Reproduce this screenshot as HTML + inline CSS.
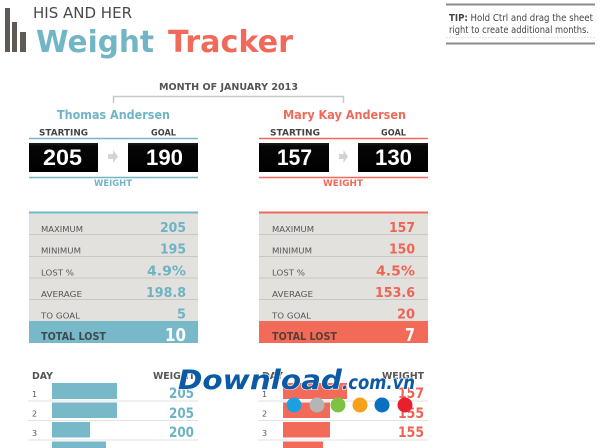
<!DOCTYPE html>
<html>
<head>
<meta charset="utf-8">
<style>
html,body{margin:0;padding:0;background:#fff;}
svg{display:block;}
text{font-family:"DejaVu Sans","Liberation Sans",sans-serif;}
.b{font-weight:bold;}
.n{font-family:"Liberation Sans",sans-serif;font-weight:bold;}
</style>
</head>
<body>
<svg width="600" height="448" viewBox="0 0 600 448" xmlns="http://www.w3.org/2000/svg">
<defs>
<linearGradient id="bx" x1="0" y1="0" x2="0" y2="1">
<stop offset="0" stop-color="#1c1c1c"/>
<stop offset="0.12" stop-color="#060606"/>
<stop offset="1" stop-color="#000"/>
</linearGradient>
</defs>

<!-- Logo bars -->
<rect x="5" y="8" width="5" height="44" fill="#5f5a55"/>
<rect x="12" y="22" width="5" height="30" fill="#5f5a55"/>
<rect x="20" y="32" width="6" height="20" fill="#5f5a55"/>
<text x="33" y="18" font-size="15" fill="#4a4a4a" textLength="99" lengthAdjust="spacingAndGlyphs">HIS AND HER</text>
<text x="36" y="52" font-size="30" class="b" fill="#72b6c6" textLength="118" lengthAdjust="spacingAndGlyphs">Weight</text>
<text x="168" y="52" font-size="30" class="b" fill="#f0695a" textLength="125" lengthAdjust="spacingAndGlyphs">Tracker</text>

<!-- Tip -->
<line x1="446" y1="4.5" x2="595" y2="4.5" stroke="#8a8a8a" stroke-width="2"/>
<text x="449" y="21" font-size="9.5" fill="#444" textLength="144" lengthAdjust="spacingAndGlyphs"><tspan class="b">TIP:</tspan> Hold Ctrl and drag the sheet</text>
<text x="449" y="33" font-size="9.5" fill="#444" textLength="140" lengthAdjust="spacingAndGlyphs">right to create additional months.</text>
<line x1="446" y1="37.5" x2="595" y2="37.5" stroke="#e6e6e6" stroke-width="1" stroke-dasharray="2 1"/>
<line x1="446" y1="43.5" x2="595" y2="43.5" stroke="#8a8a8a" stroke-width="2"/>

<!-- Month -->
<text x="159" y="90" font-size="9.5" class="b" fill="#555" textLength="139" lengthAdjust="spacingAndGlyphs">MONTH OF JANUARY 2013</text>
<path d="M113.5 103 V96.5 H343.5 V103" fill="none" stroke="#c8c8c8" stroke-width="1.5"/>

<!-- LEFT PERSON -->
<text x="57" y="119" font-size="12.5" class="b" fill="#6fb5c5" textLength="113" lengthAdjust="spacingAndGlyphs">Thomas Andersen</text>
<text x="39" y="135.5" font-size="8.5" class="b" fill="#444" textLength="49" lengthAdjust="spacingAndGlyphs">STARTING</text>
<text x="151" y="135.5" font-size="8.5" class="b" fill="#444" textLength="25" lengthAdjust="spacingAndGlyphs">GOAL</text>
<line x1="29" y1="138.5" x2="198" y2="138.5" stroke="#72b6c6" stroke-width="1.6"/>
<rect x="29" y="143" width="69" height="29" fill="url(#bx)"/>
<rect x="128" y="143" width="70" height="29" fill="url(#bx)"/>
<text x="43" y="165" font-size="22" class="n" fill="#fff" textLength="39" lengthAdjust="spacingAndGlyphs">205</text>
<text x="146" y="165" font-size="22" class="n" fill="#fff" textLength="37" lengthAdjust="spacingAndGlyphs">190</text>
<polygon points="108,154 113,154 113,150 118,156.5 113,163 113,159 108,159" fill="#d4d4d4"/>
<line x1="29" y1="177.5" x2="198" y2="177.5" stroke="#72b6c6" stroke-width="1.6"/>
<text x="94" y="186" font-size="9" class="b" fill="#72b6c6" textLength="38" lengthAdjust="spacingAndGlyphs">WEIGHT</text>

<!-- RIGHT PERSON -->
<text x="283" y="119" font-size="12.5" class="b" fill="#ef6a5a" textLength="123" lengthAdjust="spacingAndGlyphs">Mary Kay Andersen</text>
<text x="270" y="135.5" font-size="8.5" class="b" fill="#444" textLength="50" lengthAdjust="spacingAndGlyphs">STARTING</text>
<text x="381" y="135.5" font-size="8.5" class="b" fill="#444" textLength="25" lengthAdjust="spacingAndGlyphs">GOAL</text>
<line x1="259" y1="138.5" x2="428" y2="138.5" stroke="#f0695a" stroke-width="1.6"/>
<rect x="259" y="143" width="70" height="29" fill="url(#bx)"/>
<rect x="358" y="143" width="70" height="29" fill="url(#bx)"/>
<text x="277" y="165" font-size="22" class="n" fill="#fff" textLength="35" lengthAdjust="spacingAndGlyphs">157</text>
<text x="375" y="165" font-size="22" class="n" fill="#fff" textLength="37" lengthAdjust="spacingAndGlyphs">130</text>
<polygon points="339,154 343.5,154 343.5,150 348,156.5 343.5,163 343.5,159 339,159" fill="#d4d4d4"/>
<line x1="259" y1="177.5" x2="428" y2="177.5" stroke="#f0695a" stroke-width="1.6"/>
<text x="323" y="186" font-size="9" class="b" fill="#f0695a" textLength="40" lengthAdjust="spacingAndGlyphs">WEIGHT</text>

<!-- LEFT STATS -->
<rect x="29" y="212" width="169" height="110" fill="#e3e1de"/>
<line x1="29" y1="212.5" x2="198" y2="212.5" stroke="#72b6c6" stroke-width="2"/>
<g stroke="#c9c7c4" stroke-width="1">
<line x1="29" y1="234.5" x2="198" y2="234.5"/>
<line x1="29" y1="256.5" x2="198" y2="256.5"/>
<line x1="29" y1="278" x2="198" y2="278"/>
<line x1="29" y1="299.5" x2="198" y2="299.5"/>
</g>
<rect x="29" y="321" width="169" height="22" fill="#77b9c8"/>
<g font-size="8" fill="#555">
<text x="41" y="232" textLength="42" lengthAdjust="spacingAndGlyphs">MAXIMUM</text>
<text x="41" y="253.5" textLength="40" lengthAdjust="spacingAndGlyphs">MINIMUM</text>
<text x="41" y="275.5" textLength="33" lengthAdjust="spacingAndGlyphs">LOST %</text>
<text x="41" y="297" textLength="41" lengthAdjust="spacingAndGlyphs">AVERAGE</text>
<text x="41" y="318.5" textLength="39" lengthAdjust="spacingAndGlyphs">TO GOAL</text>
</g>
<text x="41" y="340" font-size="10.5" class="b" fill="#3e4a50" textLength="65" lengthAdjust="spacingAndGlyphs">TOTAL LOST</text>
<g font-size="13.5" class="b" fill="#6db3c4" text-anchor="end">
<text x="186" y="232" textLength="26" lengthAdjust="spacingAndGlyphs">205</text>
<text x="186" y="253.5" textLength="26" lengthAdjust="spacingAndGlyphs">195</text>
<text x="186" y="275.5" textLength="39" lengthAdjust="spacingAndGlyphs">4.9%</text>
<text x="186" y="297" textLength="40" lengthAdjust="spacingAndGlyphs">198.8</text>
<text x="186" y="318.5" textLength="9" lengthAdjust="spacingAndGlyphs">5</text>
</g>
<text x="186" y="341" font-size="18" class="b" fill="#fff" text-anchor="end" textLength="21" lengthAdjust="spacingAndGlyphs">10</text>

<!-- RIGHT STATS -->
<rect x="259" y="212" width="169" height="110" fill="#e3e1de"/>
<line x1="259" y1="212.5" x2="428" y2="212.5" stroke="#f0695a" stroke-width="2"/>
<g stroke="#c9c7c4" stroke-width="1">
<line x1="259" y1="234.5" x2="428" y2="234.5"/>
<line x1="259" y1="256.5" x2="428" y2="256.5"/>
<line x1="259" y1="278" x2="428" y2="278"/>
<line x1="259" y1="299.5" x2="428" y2="299.5"/>
</g>
<rect x="259" y="321" width="169" height="22" fill="#f26b58"/>
<g font-size="8" fill="#555">
<text x="272" y="232" textLength="42" lengthAdjust="spacingAndGlyphs">MAXIMUM</text>
<text x="272" y="253.5" textLength="40" lengthAdjust="spacingAndGlyphs">MINIMUM</text>
<text x="272" y="275.5" textLength="33" lengthAdjust="spacingAndGlyphs">LOST %</text>
<text x="272" y="297" textLength="41" lengthAdjust="spacingAndGlyphs">AVERAGE</text>
<text x="272" y="318.5" textLength="39" lengthAdjust="spacingAndGlyphs">TO GOAL</text>
</g>
<text x="272" y="340" font-size="10.5" class="b" fill="#5a3c36" textLength="65" lengthAdjust="spacingAndGlyphs">TOTAL LOST</text>
<g font-size="13.5" class="b" fill="#ee6454" text-anchor="end">
<text x="415" y="232" textLength="26" lengthAdjust="spacingAndGlyphs">157</text>
<text x="415" y="253.5" textLength="26" lengthAdjust="spacingAndGlyphs">150</text>
<text x="415" y="275.5" textLength="39" lengthAdjust="spacingAndGlyphs">4.5%</text>
<text x="415" y="297" textLength="40" lengthAdjust="spacingAndGlyphs">153.6</text>
<text x="415" y="318.5" textLength="18" lengthAdjust="spacingAndGlyphs">20</text>
</g>
<text x="415" y="341" font-size="18" class="b" fill="#fff" text-anchor="end" textLength="10" lengthAdjust="spacingAndGlyphs">7</text>

<!-- LEFT DAILY -->
<text x="32" y="379" font-size="9.5" class="b" fill="#555" textLength="21" lengthAdjust="spacingAndGlyphs">DAY</text>
<text x="153" y="379" font-size="9.5" class="b" fill="#555" textLength="42" lengthAdjust="spacingAndGlyphs">WEIGHT</text>
<g stroke="#e2e2e2" stroke-width="1">
<line x1="28" y1="401" x2="198" y2="401"/>
<line x1="28" y1="420.5" x2="198" y2="420.5"/>
<line x1="28" y1="440" x2="198" y2="440"/>
</g>
<g fill="#77b9c8">
<rect x="52" y="383" width="65" height="16"/>
<rect x="52" y="402.5" width="65" height="15.5"/>
<rect x="52" y="422" width="38" height="15.5"/>
<rect x="52" y="441.5" width="54" height="7"/>
</g>
<g font-size="8" fill="#555">
<text x="32" y="397">1</text>
<text x="32" y="416.5">2</text>
<text x="32" y="436">3</text>
</g>
<g font-size="14" class="b" fill="#6db3c4" text-anchor="end">
<text x="194" y="398" textLength="25" lengthAdjust="spacingAndGlyphs">205</text>
<text x="194" y="418" textLength="25" lengthAdjust="spacingAndGlyphs">205</text>
<text x="194" y="437" textLength="25" lengthAdjust="spacingAndGlyphs">200</text>
</g>

<!-- RIGHT DAILY -->
<text x="262" y="379" font-size="9.5" class="b" fill="#555" textLength="21" lengthAdjust="spacingAndGlyphs">DAY</text>
<text x="382" y="379" font-size="9.5" class="b" fill="#555" textLength="42" lengthAdjust="spacingAndGlyphs">WEIGHT</text>
<g stroke="#e2e2e2" stroke-width="1">
<line x1="258" y1="401" x2="428" y2="401"/>
<line x1="258" y1="420.5" x2="428" y2="420.5"/>
<line x1="258" y1="440" x2="428" y2="440"/>
</g>
<g fill="#f26b58">
<rect x="283" y="383" width="64" height="16"/>
<rect x="283" y="402.5" width="47" height="15.5"/>
<rect x="283" y="422" width="47" height="15.5"/>
<rect x="283" y="441.5" width="40" height="7"/>
</g>
<g font-size="8" fill="#555">
<text x="262" y="397">1</text>
<text x="262" y="416.5">2</text>
<text x="262" y="436">3</text>
</g>
<g font-size="14" class="b" fill="#ee6454" text-anchor="end">
<text x="424" y="398" textLength="26" lengthAdjust="spacingAndGlyphs">157</text>
<text x="424" y="418" textLength="26" lengthAdjust="spacingAndGlyphs">155</text>
<text x="424" y="437" textLength="26" lengthAdjust="spacingAndGlyphs">155</text>
</g>

<!-- Watermark -->
<g font-weight="bold" font-style="italic" fill="#0c5aa6" stroke="#ffffff" stroke-width="1.2" paint-order="stroke">
<text x="178" y="389" font-size="27" textLength="164" lengthAdjust="spacingAndGlyphs">Download</text>
<text x="342" y="389" font-size="19" textLength="73" lengthAdjust="spacingAndGlyphs">.com.vn</text>
</g>
<circle cx="294" cy="405" r="7.5" fill="#1ba1e2"/>
<circle cx="317" cy="405" r="7.5" fill="#b5b5b5"/>
<circle cx="338" cy="405" r="7.5" fill="#7dc242"/>
<circle cx="360" cy="405" r="7.5" fill="#f7a11a"/>
<circle cx="382" cy="405" r="7.5" fill="#0b6fc2"/>
<circle cx="405" cy="405" r="7.5" fill="#e81f2d"/>
</svg>
</body>
</html>
